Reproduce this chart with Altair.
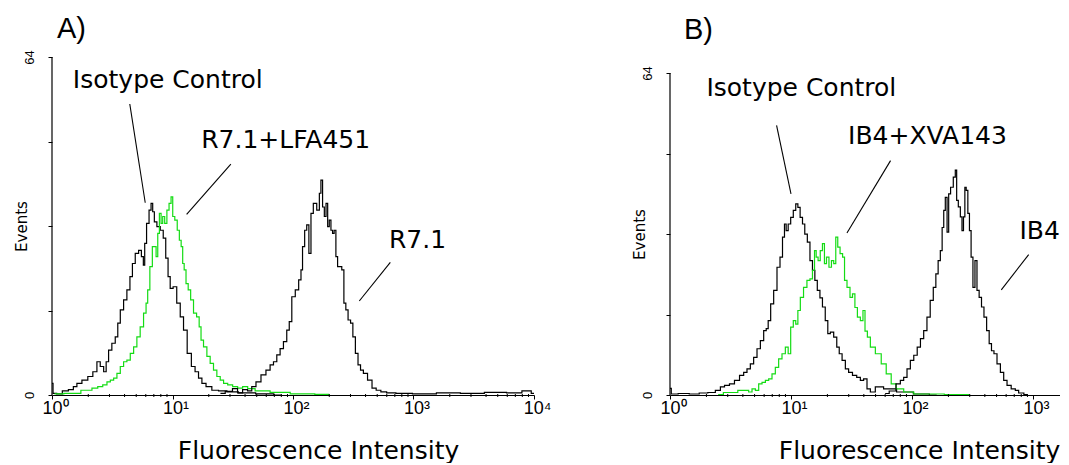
import altair as alt
import pandas as pd

# ---------------- data (intensity, events) ----------------
a_isotype = [(1.0, 2.2), (1.04, 0.3), (1.15, 0.2), (1.29, 0.8), (1.45, 1.0), (1.56, 1.6), (1.66, 2.2),
             (1.89, 2.8), (2.08, 3.5), (2.29, 4.4), (2.43, 6.3), (2.60, 5.4), (2.77, 4.4), (2.86, 6.3),
             (3.04, 8.5), (3.24, 9.8), (3.46, 11.0), (3.57, 13.6), (3.81, 16.1), (4.05, 18.0), (4.32, 19.9),
             (4.55, 22.4), (4.75, 24.9), (5.07, 26.8), (5.40, 27.4), (5.64, 26.2), (5.82, 24.6), (5.94, 28.7),
             (6.25, 32.5), (6.53, 35.0), (6.75, 36.3), (6.95, 34.7), (7.19, 32.8), (7.66, 31.9), (8.17, 31.2),
             (8.59, 29.7), (8.99, 25.9), (9.39, 22.4), (9.75, 20.2), (10.5, 20.5), (11.2, 17.4), (12.0, 14.8),
             (12.7, 12.3), (13.8, 7.9), (14.9, 5.4), (15.9, 4.4), (17.0, 3.2), (18.1, 2.2), (19.9, 1.6),
             (22.6, 0.9), (25.7, 0.8), (31.1, 0.6), (40.0, 0.4), (60.0, 0.2), (80.0, 0.0)]
a_lfa451 = [(1.05, 0.2), (1.5, 0.3), (2.01, 0.9), (2.29, 1.3), (2.51, 1.6), (2.77, 1.9), (2.95, 2.5),
            (3.15, 2.8), (3.35, 3.2), (3.57, 4.1), (3.81, 5.4), (4.05, 6.3), (4.32, 6.6), (4.61, 7.9),
            (4.91, 9.1), (5.22, 11.0), (5.57, 12.9), (5.94, 15.5), (6.13, 17.4), (6.32, 19.9), (6.66, 24.3),
            (6.95, 28.1), (7.19, 28.1), (7.43, 26.2), (7.66, 30.6), (7.91, 34.4), (8.17, 32.5), (8.42, 33.8),
            (8.81, 32.5), (9.16, 35.0), (9.57, 36.3), (9.89, 37.5), (10.2, 33.8), (10.7, 33.1), (11.2, 31.2),
            (11.6, 29.3), (12.0, 28.1), (12.3, 24.9), (12.7, 23.7), (13.2, 21.1), (13.8, 19.9), (14.5, 18.0),
            (15.4, 15.5), (16.3, 14.8), (17.0, 12.9), (17.5, 10.4), (18.7, 9.1), (19.9, 7.3), (21.2, 6.0),
            (22.6, 4.7), (24.1, 3.5), (25.7, 2.8), (27.4, 2.2), (30.1, 1.9), (33.1, 1.6), (36.4, 1.3),
            (40.1, 1.6), (44.1, 1.2), (53.3, 0.8), (78.2, 0.5), (115.0, 0.2), (200.0, 0.1)]
a_r71 = [(25.0, 0.3), (30.0, 0.7), (33.0, 1.2), (36.4, 0.4), (40.0, 1.0), (44.0, 0.8), (47.0, 1.6),
         (51.7, 2.5), (56.9, 3.8), (62.5, 4.7), (66.7, 5.7), (71.1, 6.3), (75.7, 7.6), (80.7, 8.8),
         (86.0, 10.1), (91.6, 12.3), (94.6, 13.9), (101, 18.6), (108, 19.9), (115, 21.8), (118, 23.7),
         (122, 28.1), (128, 31.2), (132, 32.2), (139, 26.8), (143, 34.4), (152, 36.3), (163, 35.0),
         (168, 38.2), (173, 40.7), (179, 35.6), (185, 33.8), (191, 36.3), (197, 31.9), (203, 33.1),
         (210, 31.2), (216, 30.6), (223, 31.2), (231, 26.2), (238, 24.3), (249, 24.3), (259, 23.7),
         (270, 17.4), (279, 16.1), (294, 14.2), (307, 13.6), (321, 11.0), (338, 7.9), (355, 5.7),
         (372, 4.7), (396, 4.1), (436, 2.8), (470, 1.3), (511, 0.9), (562, 0.6), (638, 0.4), (800, 0.3),
         (1200, 0.2), (2000, 0.4), (3000, 0.3), (5000, 0.5), (7000, 0.4), (9000, 0.8), (10000, 0.3)]

b_isotype = [(1.0, 1.3), (1.05, 0.2), (1.3, 0.3), (1.6, 0.2), (1.9, 0.4), (2.22, 0.5), (2.53, 0.9),
             (2.69, 1.6), (2.96, 1.9), (3.25, 2.2), (3.58, 2.9), (3.94, 3.9), (4.19, 4.5), (4.47, 5.2),
             (4.76, 6.2), (5.07, 7.5), (5.41, 9.2), (5.76, 10.8), (6.14, 12.8), (6.34, 13.2), (6.62, 14.8),
             (6.97, 18.1), (7.42, 20.8), (7.91, 25.4), (8.32, 27.4), (8.70, 31.4), (8.97, 34.0), (9.27, 32.7),
             (9.69, 34.0), (10.2, 35.3), (10.7, 36.7), (11.2, 38.0), (11.6, 37.3), (12.2, 35.3), (12.7, 34.0),
             (13.3, 32.0), (14.0, 30.4), (14.7, 26.7), (15.4, 24.8), (16.1, 22.8), (16.9, 20.8), (17.8, 19.3),
             (18.6, 17.5), (19.8, 14.8), (20.5, 12.2), (21.8, 12.5), (23.3, 11.5), (24.5, 9.5), (25.6, 8.2),
             (27.3, 6.9), (29.0, 5.2), (30.9, 4.5), (33.6, 3.9), (36.3, 3.5), (38.6, 2.9), (41.1, 3.2),
             (43.9, 1.2), (46.7, 0.6), (53.0, 1.6), (64.0, 1.2), (87.0, 0.6), (121.0, 0.2), (160.0, 0.0)]
b_xva143 = [(2.5, 0.1), (3.05, 0.5), (4.33, 0.9), (4.61, 0.6), (4.92, 1.2), (5.24, 0.9), (5.58, 2.2),
            (5.95, 2.5), (6.34, 2.9), (6.75, 3.2), (7.19, 4.2), (7.66, 5.5), (8.16, 7.2), (8.70, 8.2),
            (9.27, 9.5), (9.69, 8.2), (10.2, 13.5), (10.7, 14.8), (11.2, 14.1), (11.6, 16.8), (12.3, 19.4),
            (13.1, 21.4), (14.0, 22.8), (14.7, 23.1), (15.4, 24.8), (15.9, 28.7), (16.4, 27.4), (17.1, 26.7),
            (17.8, 28.7), (18.6, 30.1), (19.2, 26.1), (20.1, 27.4), (21.1, 25.4), (22.1, 26.7), (23.0, 26.1),
            (23.9, 31.4), (24.8, 29.4), (26.1, 28.1), (27.3, 27.4), (28.1, 22.8), (30.0, 21.4), (31.5, 19.4),
            (33.0, 20.1), (34.5, 17.4), (36.3, 15.5), (38.6, 14.8), (40.1, 16.8), (41.7, 12.7), (43.9, 11.5),
            (46.7, 9.5), (53.1, 8.2), (58.4, 6.2), (64.2, 4.2), (70.6, 2.2), (77.6, 1.2), (94.0, 0.6),
            (114.0, 0.2), (300.0, 0.1)]
b_ib4 = [(60, 0.3), (70, 0.8), (77.6, 2.2), (82.7, 2.9), (88.1, 3.5), (93.9, 5.2), (100, 6.9), (107, 7.9),
         (114, 9.5), (121, 11.2), (129, 12.8), (137, 15.5), (146, 18.8), (154, 21.4), (161, 24.1),
         (168, 26.7), (175, 28.7), (180, 33.3), (186, 36.7), (191, 39.3), (199, 32.4), (203, 40.0),
         (214, 41.3), (225, 43.3), (231, 44.7), (237, 38.7), (246, 37.4), (256, 35.4), (262, 32.7),
         (271, 35.4), (276, 41.3), (285, 40.7), (294, 36.1), (303, 32.7), (313, 27.4), (325, 21.4),
         (338, 26.7), (351, 20.8), (367, 19.4), (384, 17.5), (403, 15.5), (425, 12.8), (444, 10.2),
         (464, 8.8), (488, 8.2), (521, 6.2), (555, 4.5), (591, 2.9), (630, 1.9), (692, 1.2), (738, 0.9),
         (785, 0.4), (900, 0.1)]

a_series = ["Isotype Control", "R7.1+LFA451", "R7.1"]
b_series = ["Isotype Control", "IB4+XVA143", "IB4"]
series_colors = ["#000000", "#14dc14", "#000000"]

x_tick_values = [1, 10, 100, 1000, 10000]
x_tick_labels = ["10\u2070", "10\u00b9", "10\u00b2", "10\u00b3", "10\u2074"]
minor_ticks = [2, 3, 4, 5, 6, 7, 8, 9, 20, 30, 40, 50, 60, 70, 80, 90,
               200, 300, 400, 500, 600, 700, 800, 900, 2000, 3000, 4000, 5000, 6000, 7000, 8000, 9000]
y_tick_values = [0, 16, 32, 48, 64]
y_tick_labels = ["0", "", "", "", "64"]

# visible x range of each panel (panel B is cut at the right edge of the figure)
a_x_max = 10000
b_x_max = 1672

# annotation anchors in data units (intensity, events)
a_label_pos = [(1.49, 58.2), (17.3, 46.8), (626, 27.9)]
a_leaders = [(4.42, 55.1, 5.94, 36.4), (30.5, 43.7, 13.1, 34.2), (642, 25.1, 355, 17.8)]
b_label_pos = [(2.0, 59.5), (29.6, 49.9), (773, 31.1)]
b_leaders = [(7.60, 53.6, 10.0, 40.0), (66.5, 46.6, 29.0, 32.2), (921, 27.9, 547, 20.9)]


def build_panel(curves, names, label_pos, leaders, x_max, w, h, y_top, title, title_dx,
                title_offset, xtitle_x):
    rows = []
    for name, color, pts in zip(names, series_colors, curves):
        for i, (x, y) in enumerate(pts):
            if x <= x_max:
                rows.append({"series": name, "stroke": color, "intensity": x, "events": y, "idx": i})
    df = pd.DataFrame(rows)

    xs = alt.Scale(type="log", domain=[1, x_max], nice=False)
    ys = alt.Scale(domain=[0, y_top], nice=False)
    ppu = h / y_top

    xt = [v for v in x_tick_values if v <= x_max]
    x_expr = "[" + ",".join("'%s'" % t for t in x_tick_labels) + "][round(log(datum.value)/LN10)]"
    y_expr = ("[" + ",".join("'%s'" % t for t in y_tick_labels) + "][indexof(["
              + ",".join(str(v) for v in y_tick_values) + "], datum.value)]")

    x_axis = alt.Axis(values=xt, labelExpr=x_expr, grid=False,
                      tickSize=4, tickColor="black", domainColor="black", domainWidth=1.2,
                      labelFont="Liberation Sans", labelFontSize=18, labelColor="black",
                      labelPadding=0, labelOffset=3, labelFlush=False, labelOverlap=False,
                      title="Fluorescence Intensity", titleFont="DejaVu Sans", titleFontSize=25,
                      titleFontWeight="normal", titleColor="black", titleX=xtitle_x, titleY=63,
                      titleBaseline="alphabetic", titleAlign="center")
    y_axis = alt.Axis(values=y_tick_values, labelExpr=y_expr, grid=False, domain=False,
                      tickSize=4, tickColor="black",
                      labelAngle=270, labelAlign="center", labelBaseline="bottom", labelPadding=12,
                      labelFont="Liberation Sans", labelFontSize=13, labelColor="black",
                      title="Events", titleFont="DejaVu Sans", titleFontSize=15,
                      titleFontWeight="normal", titleColor="black", titleAngle=270,
                      titleX=-26, titleY=h - 32 * ppu, titleBaseline="alphabetic", titleAlign="center")

    X = lambda f: alt.X(f, scale=xs, axis=x_axis)
    Y = lambda f: alt.Y(f, scale=ys, axis=y_axis)

    lines = alt.Chart(df).mark_line(interpolate="step", strokeWidth=1.2).encode(
        x=X("intensity:Q"), y=Y("events:Q"),
        color=alt.Color("stroke:N", scale=None),
        detail="series:N",
        order=alt.Order("idx:Q"),
    )

    # y axis line running from 0 to 64 only
    yline_df = pd.DataFrame({"lo": [min(y_tick_values)], "hi": [max(y_tick_values)]})
    yline = alt.Chart(yline_df).mark_rule(color="black", strokeWidth=1.2).encode(
        x=alt.value(0), y=Y("lo:Q"), y2="hi:Q",
    )

    mt = [t for t in minor_ticks if t < x_max]
    minor = alt.Chart(pd.DataFrame({"t": mt})).mark_rule(color="black", strokeWidth=1).encode(
        x=X("t:Q"), y=alt.value(h - 1), y2=alt.value(h + 2),
    )

    lead_df = pd.DataFrame(leaders, columns=["x1", "y1", "x2", "y2"])
    lead = alt.Chart(lead_df).mark_rule(color="black", strokeWidth=1.1).encode(
        x=X("x1:Q"), y=Y("y1:Q"), x2="x2:Q", y2="y2:Q",
    )

    ann_df = pd.DataFrame({"label": names,
                           "intensity": [p[0] for p in label_pos],
                           "events": [p[1] for p in label_pos]})
    text = alt.Chart(ann_df).mark_text(align="left", baseline="alphabetic", font="DejaVu Sans",
                                       fontSize=25, color="black").encode(
        x=X("intensity:Q"), y=Y("events:Q"), text="label:N",
    )

    return alt.layer(lines, yline, minor, lead, text).properties(
        width=w, height=h,
        title=alt.TitleParams(title, anchor="start", frame="group", dx=title_dx, offset=title_offset,
                              font="Liberation Sans", fontSize=29, fontWeight="normal",
                              color="black"),
    )


panel_a = build_panel([a_isotype, a_lfa451, a_r71], a_series, a_label_pos, a_leaders,
                      a_x_max, 482, 338, 64, "A)", 5, 5.6, 266)
panel_b = build_panel([b_isotype, b_xva143, b_ib4], b_series, b_label_pos, b_leaders,
                      b_x_max, 390, 338, 67.2, "B)", 14, 11.6, 249)

chart = alt.hconcat(panel_a, panel_b, spacing=81).configure_view(stroke=None).properties(
    padding={"left": 6, "top": 7, "right": 0, "bottom": 0}, background="white"
)

chart.save("out.html", embed_options={"renderer": "svg", "actions": False})
